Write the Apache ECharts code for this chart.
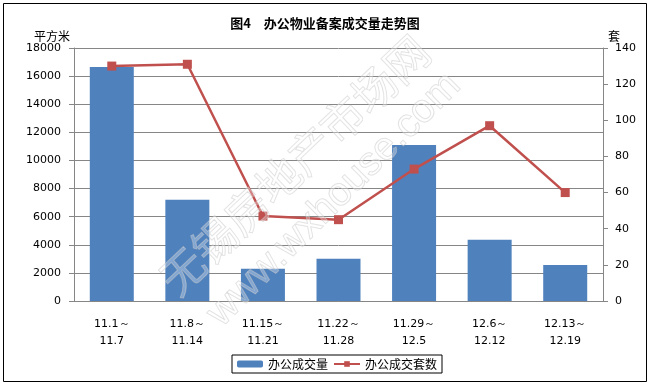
<!DOCTYPE html>
<html><head><meta charset="utf-8">
<script src="https://cdn.jsdelivr.net/npm/echarts@6/dist/echarts.min.js"></script>
<style>html,body{margin:0;padding:0;background:#fff}#c{width:650px;height:385px}</style>
</head><body><div id="c"></div>
<script>
var categories = ["11.1～\n11.7","11.8～\n11.14","11.15～\n11.21","11.22～\n11.28","11.29～\n12.5","12.6～\n12.12","12.13～\n12.19"];
var areaValues = [16650, 7200, 2300, 3000, 11100, 4350, 2560];
var unitValues = [130, 131, 47, 45, 73, 97, 60];
var seriesNames = ["办公成交量", "办公成交套数"];
var titleText = "图4　办公物业备案成交量走势图";

var chart = echarts.init(document.getElementById('c'));
var lab = {fontFamily: 'DejaVu Sans', fontSize: 11, color: '#000', formatter: function (v) { return String(v); }};
var cjk = "'Noto Sans CJK SC', sans-serif";
chart.setOption({
  animation: false,
  title: {text: titleText, left: 'center', top: 12, textStyle: {fontFamily: cjk, fontSize: 13, fontWeight: 'bold', color: '#000'}},
  grid: {left: 74, right: 47, top: 48, bottom: 84},
  legend: {
    left: 232, top: 355,
    borderColor: '#000', borderWidth: 1, padding: [3, 5, 3, 5], itemGap: 5,
    itemWidth: 26, itemHeight: 7,
    textStyle: {fontFamily: cjk, fontSize: 12, color: '#000'},
    data: seriesNames
  },
  xAxis: {
    type: 'category', data: categories,
    axisLine: {lineStyle: {color: '#868686'}},
    axisTick: {show: false},
    axisLabel: {interval: 0, margin: 15, lineHeight: 17, fontFamily: 'DejaVu Sans', fontSize: 11, color: '#000'}
  },
  yAxis: [{
    type: 'value', min: 0, max: 18000, interval: 2000,
    name: '平方米', nameLocation: 'end', nameGap: 4,
    nameTextStyle: {fontFamily: cjk, fontSize: 12, color: '#000', align: 'right', padding: [0, 4, 0, 0]},
    axisLine: {show: true, lineStyle: {color: '#868686'}},
    axisTick: {show: true, length: 5, lineStyle: {color: '#868686'}},
    axisLabel: Object.assign({margin: 13}, lab),
    splitLine: {lineStyle: {color: '#868686'}}
  }, {
    type: 'value', min: 0, max: 140, interval: 20,
    name: '套', nameLocation: 'end', nameGap: 2,
    nameTextStyle: {fontFamily: cjk, fontSize: 12, color: '#000', align: 'left', padding: [0, 0, 0, 5]},
    axisLine: {show: true, lineStyle: {color: '#868686'}},
    axisTick: {show: true, length: 5, lineStyle: {color: '#868686'}},
    axisLabel: Object.assign({margin: 12}, lab),
    splitLine: {show: false}
  }],
  series: [{
    name: seriesNames[0], type: 'bar', data: areaValues, barWidth: 44,
    itemStyle: {color: '#4F81BD'}
  }, {
    name: seriesNames[1], type: 'line', yAxisIndex: 1, data: unitValues,
    symbol: 'rect', symbolSize: 9,
    lineStyle: {color: '#C0504D', width: 2.5},
    itemStyle: {color: '#C0504D'}
  }],
  graphic: [
    {type: 'rect', shape: {x: 3.5, y: 3.5, width: 643, height: 378}, style: {fill: 'none', stroke: '#000', lineWidth: 1}, z: 100},
    {type: 'text', x: 182, y: 302, rotation: Math.PI * 43.5 / 180, z: 50,
     style: {text: '无锡房地产市场网', font: "44px 'Noto Sans CJK SC'", fill: 'rgba(255,255,255,0.3)', stroke: 'rgba(190,190,190,0.5)', lineWidth: 1, textVerticalAlign: 'bottom'}},
    {type: 'text', x: 228, y: 334, rotation: Math.PI * 45 / 180, z: 50,
     style: {text: 'www.wxhouse.com', font: "40px 'Liberation Sans'", fill: 'rgba(255,255,255,0.3)', stroke: 'rgba(190,190,190,0.5)', lineWidth: 1, textVerticalAlign: 'bottom'}}
  ]
});
</script></body></html>
